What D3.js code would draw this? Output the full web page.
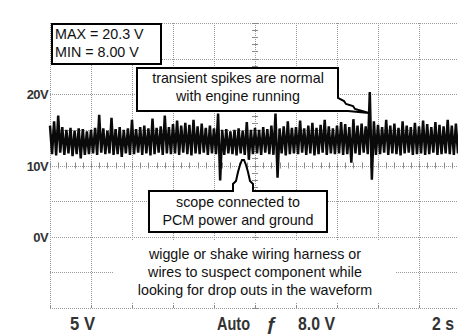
<!DOCTYPE html>
<html>
<head>
<meta charset="utf-8">
<script src="https://cdn.jsdelivr.net/npm/d3@7"></script>
<style>
  body { margin: 0; background: #fff; }
  svg { display: block; }
  text { font-family: "Liberation Sans", Arial, Helvetica, sans-serif; }
</style>
</head>
<body>
<script>
const width = 458;
const height = 334;

// scope settings
const voltsPerDiv = 5;
const secPerDiv = 2;
const sampleStep = 0.1; // seconds between samples

// trace, one row = one division (2 s)
const volts = [
  15.6, 11.6, 16.2, 11.4, 17.0, 11.8, 15.4, 11.5, 15.0, 11.7, 15.3, 11.3, 14.9, 11.6, 15.2, 11.0, 15.1, 11.5, 14.8, 11.6,
  15.0, 11.7, 15.3, 11.5, 17.1, 11.8, 15.2, 11.6, 14.9, 11.7, 16.7, 11.5, 15.1, 11.6, 15.4, 11.2, 15.0, 11.7, 15.2, 11.5,
  16.4, 11.6, 15.1, 11.8, 15.4, 11.5, 15.6, 11.7, 15.2, 11.4, 16.6, 11.6, 15.3, 11.8, 15.5, 11.5, 17.0, 11.7, 15.4, 11.6,
  15.8, 11.7, 16.3, 11.5, 15.6, 11.8, 16.0, 11.6, 15.7, 11.4, 16.4, 11.7, 15.5, 11.6, 15.9, 11.8, 15.3, 11.5, 15.6, 11.7,
  15.2, 11.6, 17.3, 7.9, 15.0, 11.5, 15.1, 11.7, 14.8, 11.6, 15.0, 11.4, 15.2, 11.7, 14.9, 11.5, 16.1, 10.8, 15.0, 11.6,
  15.3, 11.7, 15.0, 11.5, 15.4, 11.8, 15.1, 11.6, 15.6, 11.5, 17.3, 8.3, 15.2, 11.7, 15.5, 11.4, 16.2, 11.6, 15.3, 11.7,
  15.4, 11.6, 16.3, 11.8, 15.2, 11.5, 15.6, 11.7, 16.0, 11.4, 15.3, 11.6, 15.7, 11.8, 16.4, 11.5, 15.5, 11.7, 15.2, 11.6,
  15.6, 11.7, 16.1, 11.5, 15.8, 11.6, 15.4, 10.4, 16.5, 11.7, 15.6, 11.5, 15.9, 11.8, 15.5, 11.6, 20.3, 8.0, 16.2, 11.5,
  15.7, 11.6, 15.4, 11.8, 16.4, 11.5, 15.6, 11.7, 15.9, 11.6, 15.3, 11.4, 16.2, 11.7, 15.6, 11.8, 15.4, 11.5, 16.0, 11.6,
  15.5, 11.7, 16.3, 11.5, 15.8, 11.6, 15.4, 11.8, 16.1, 11.5, 15.7, 11.6, 15.5, 11.7, 16.4, 11.6, 15.6, 11.5, 15.9, 11.7
];

const voltTicks = [0, 10, 20];
const voltLabels = ["0V", "10V", "20V"];

const readout = ["MAX = 20.3 V", "MIN = 8.00 V"];
const spikeNote = ["transient spikes are normal", "with engine running"];
const scopeNote = ["scope connected to", "PCM power and ground"];
const wiggleNote = ["wiggle or shake wiring harness or", "wires to suspect component while", "looking for drop outs in the waveform"];
const statusBar = ["5 V", "Auto", "\u0192", "8.0 V", "2 s"];

// where the status bar words sit (left edge, squeezed width)
const statusX = [70, 217, 266, 298, 432];
const statusW = [25, 33, 11, 37, 22];

const x = d3.scaleLinear().domain([0, 10 * secPerDiv]).range([50, 460]);
const y = d3.scaleLinear().domain([-2 * voltsPerDiv, 6 * voltsPerDiv]).range([308, 23]);

const px = v => Math.round(v) + 0.5;

const svg = d3.select("body")
    .append("svg")
    .attr("width", width)
    .attr("height", height);

// ---- graticule ----
const grid = svg.append("g")
    .attr("stroke", "#9a9a9a")
    .attr("stroke-width", 1)
    .attr("stroke-dasharray", "1,1");

grid.selectAll(".vl")
    .data(d3.range(0, 10 * secPerDiv + 0.01, secPerDiv))
    .join("line")
    .attr("x1", d => px(x(d)))
    .attr("x2", d => px(x(d)))
    .attr("y1", y.range()[1])
    .attr("y2", y.range()[0]);

grid.selectAll(".hl")
    .data(d3.range(-2 * voltsPerDiv, 6 * voltsPerDiv + 0.01, voltsPerDiv))
    .join("line")
    .attr("x1", x.range()[0])
    .attr("x2", x.range()[1])
    .attr("y1", d => px(y(d)))
    .attr("y2", d => px(y(d)));

// minor ticks on the centre lines
const ticks = svg.append("g").attr("stroke", "#8a8a8a").attr("stroke-width", 1);
const midV = 2 * voltsPerDiv;
const midT = 5 * secPerDiv;

ticks.selectAll(".tx")
    .data(d3.range(0, 10 * secPerDiv + 0.01, secPerDiv / 5))
    .join("line")
    .attr("x1", d => px(x(d)))
    .attr("x2", d => px(x(d)))
    .attr("y1", y(midV) - 3)
    .attr("y2", y(midV) + 3);

ticks.selectAll(".ty")
    .data(d3.range(-2 * voltsPerDiv, 6 * voltsPerDiv + 0.01, voltsPerDiv / 5))
    .join("line")
    .attr("x1", x(midT) - 3)
    .attr("x2", x(midT) + 3)
    .attr("y1", d => px(y(d)))
    .attr("y2", d => px(y(d)));

ticks.selectAll(".tb")
    .data(d3.range(0, 10 * secPerDiv + 0.01, secPerDiv))
    .join("line")
    .attr("x1", d => px(x(d)))
    .attr("x2", d => px(x(d)))
    .attr("y1", y.range()[0] - 3)
    .attr("y2", y.range()[0]);

// ---- trace ----
const line = d3.line()
    .x((d, i) => x(i * sampleStep))
    .y(d => y(d));

svg.append("path")
    .datum(volts)
    .attr("d", line)
    .attr("fill", "none")
    .attr("stroke", "#0a0a0a")
    .attr("stroke-width", 2.5);

// ---- volt labels ----
svg.selectAll(".vlab")
    .data(voltTicks)
    .join("text")
    .attr("x", 48)
    .attr("y", d => y(d) + 5)
    .attr("text-anchor", "end")
    .attr("font-size", 13)
    .attr("font-weight", "bold")
    .attr("letter-spacing", -0.6)
    .attr("fill", "#333")
    .text((d, i) => voltLabels[i]);

// ---- callouts ----
function note(lines, cx, y0, anchor) {
    svg.append("g").selectAll("text")
        .data(lines)
        .join("text")
        .attr("x", cx)
        .attr("y", (d, i) => y0 + i * 18)
        .attr("text-anchor", anchor)
        .attr("font-size", 14.3)
        .attr("fill", "#111")
        .text(d => d);
}

// white area behind the bottom note hides the grid
svg.append("rect")
    .attr("x", 113).attr("y", 240)
    .attr("width", 282).attr("height", 63)
    .attr("fill", "#fff");
note(wiggleNote, 255, 259, "middle");

svg.append("rect")
    .attr("x", 52).attr("y", 24)
    .attr("width", 109).attr("height", 40)
    .attr("fill", "#fff")
    .attr("stroke", "#000")
    .attr("stroke-width", 2);
note(readout, 55, 39, "start");

svg.append("path")
    .attr("d", "M137,68 H338 V98 L344,101 L346,104 L353,106 L355,109 L362,111 L369,113 L348,111 H137 Z")
    .attr("fill", "#fff")
    .attr("stroke", "#000")
    .attr("stroke-width", 2)
    .attr("stroke-linejoin", "miter");
note(spikeNote, 238, 83, "middle");

svg.append("path")
    .attr("d", "M149,191 H233 V184 L236,181 L238,172 L240,165 L242,160 L244,160 L246,165 L248,172 L250,181 L253,184 V191 H327 V232 H149 Z")
    .attr("fill", "#fff")
    .attr("stroke", "#000")
    .attr("stroke-width", 2);
note(scopeNote, 238, 207, "middle");

// ---- status bar ----
svg.selectAll(".status")
    .data(statusBar)
    .join("text")
    .attr("x", (d, i) => statusX[i])
    .attr("y", 330)
    .attr("font-size", 19)
    .attr("font-weight", "bold")
    .attr("fill", "#333")
    .attr("textLength", (d, i) => statusW[i])
    .attr("lengthAdjust", "spacingAndGlyphs")
    .text(d => d);
</script>
</body>
</html>
